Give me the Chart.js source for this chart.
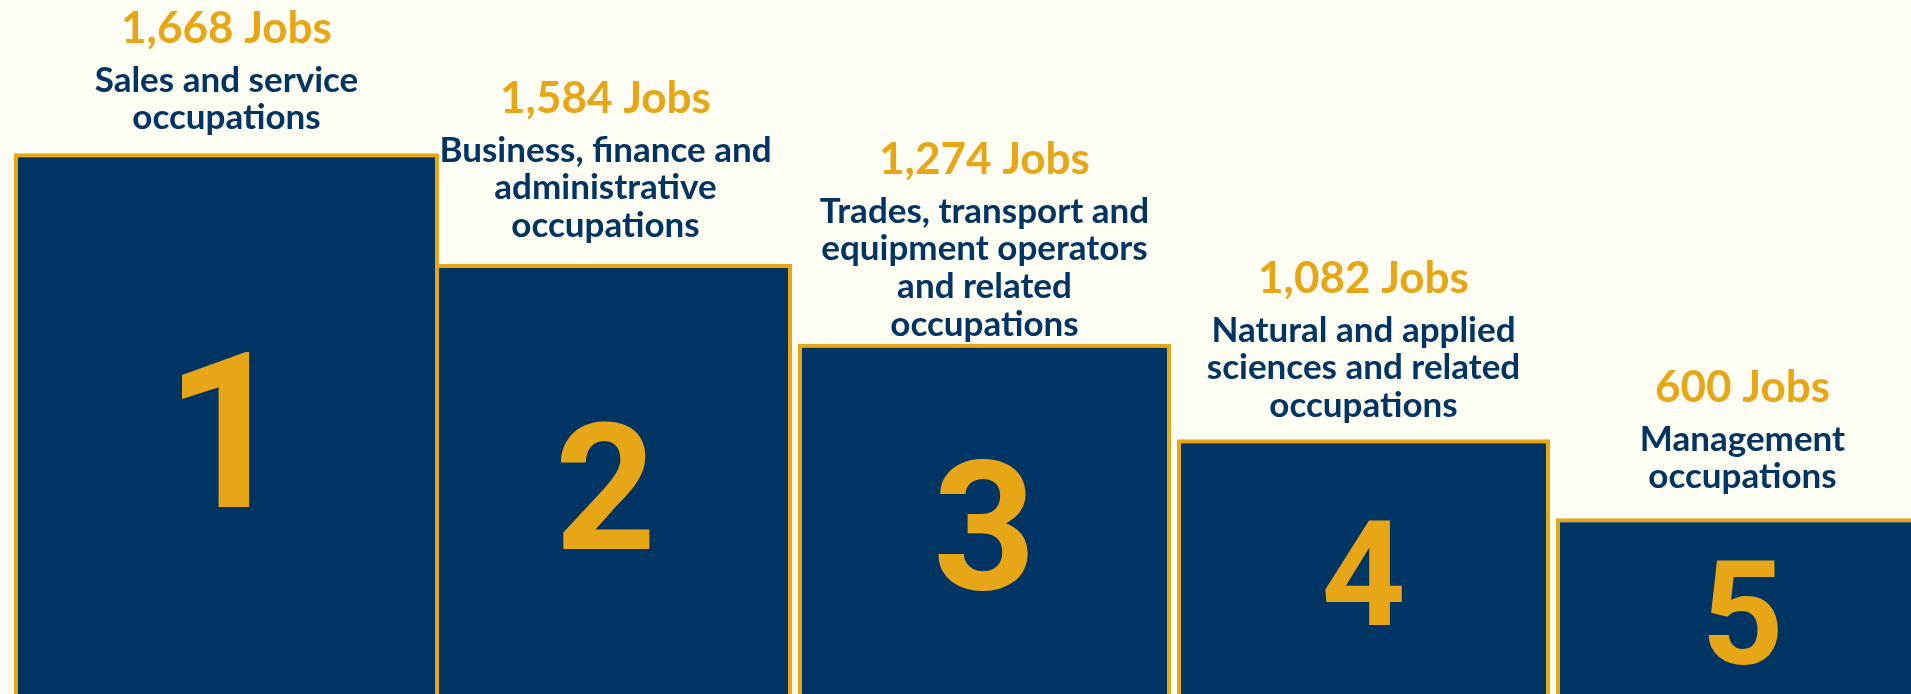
<!DOCTYPE html>
<html>
<head>
<meta charset="utf-8">
<script src="https://cdn.jsdelivr.net/npm/chart.js@4.4.0/dist/chart.umd.min.js"></script>
<style>
  html, body { margin: 0; padding: 0; background: #fffef5; overflow: hidden; width: 1911px; height: 694px; }
  #wrap { position: absolute; left: 0; top: 0; width: 1932px; height: 706px; }
</style>
</head>
<body>
<div id="wrap"><canvas id="podium"></canvas></div>
<script>
const categories = [
    ['Sales and service', 'occupations'],
    ['Business, finance and', 'administrative', 'occupations'],
    ['Trades, transport and', 'equipment operators', 'and related', 'occupations'],
    ['Natural and applied', 'sciences and related', 'occupations'],
    ['Management', 'occupations']
]
const jobs = [1668, 1584, 1274, 1082, 600]
const ranks = ['1', '2', '3', '4', '5']
// podium step heights (% of the full column)
const stepHeights = [78.3, 62.6, 51.3, 37.8, 26.6]

const navy = '#003463'
const gold = '#e6a615'
const numeralHeights = [156, 129, 133, 106, 105]
const labelGaps = [24, 27, 8, 22, 30]
const lineHeight = 37.7

const podiumLabels = {
    id: 'podiumLabels',
    afterDatasetsDraw(chart) {
        const ctx = chart.ctx
        categories.forEach((lines, i) => {
            const dsIndex = chart.data.datasets.findIndex(ds => ds.data[i] !== null)
            const bar = chart.getDatasetMeta(dsIndex).data[i]
            ctx.save()
            ctx.textAlign = 'center'
            ctx.textBaseline = 'alphabetic'

            // rank numeral in the middle of the step
            ctx.font = '700 100px Roboto'
            const m = ctx.measureText(ranks[i])
            const size = 100 * numeralHeights[i] / (m.actualBoundingBoxAscent + m.actualBoundingBoxDescent)
            ctx.font = `700 ${size}px Roboto`
            const mm = ctx.measureText(ranks[i])
            const mid = (bar.y + bar.base) / 2
            ctx.fillStyle = gold
            ctx.fillText(ranks[i], bar.x, mid + (mm.actualBoundingBoxAscent - mm.actualBoundingBoxDescent) / 2)

            // occupation name, last line just above the step
            ctx.font = '700 35px Lato'
            ctx.fillStyle = navy
            let y = bar.y - labelGaps[i]
            for (let k = lines.length - 1; k >= 0; k--) {
                ctx.fillText(lines[k], bar.x, y)
                if (k > 0) y -= lineHeight
            }

            ctx.font = '700 44px Lato'
            ctx.fillStyle = gold
            ctx.fillText(jobs[i].toLocaleString('en-US') + ' Jobs', bar.x, y - 49)
            ctx.restore()
        })
    }
}

const barStyle = {
    backgroundColor: navy,
    borderColor: gold,
    borderWidth: 4,
    grouped: false,
    categoryPercentage: 1,
    clip: false
}

new Chart(document.getElementById('podium'), {
    type: 'bar',
    data: {
        labels: categories,
        datasets: [
            // the winning step is drawn a little wider than the others
            { ...barStyle, data: stepHeights.map((v, i) => i === 0 ? v : null), barPercentage: 425 / 379 },
            { ...barStyle, data: stepHeights.map((v, i) => i === 0 ? null : v), barPercentage: 373 / 379 }
        ]
    },
    options: {
        responsive: true,
        maintainAspectRatio: false,
        animation: false,
        events: [],
        layout: { padding: { left: 37, right: 0, top: 0, bottom: 0 } },
        plugins: {
            legend: { display: false },
            tooltip: { enabled: false }
        },
        scales: {
            x: { display: false },
            y: { display: false, min: 0, max: 100 }
        }
    },
    plugins: [podiumLabels]
})
</script>
</body>
</html>
